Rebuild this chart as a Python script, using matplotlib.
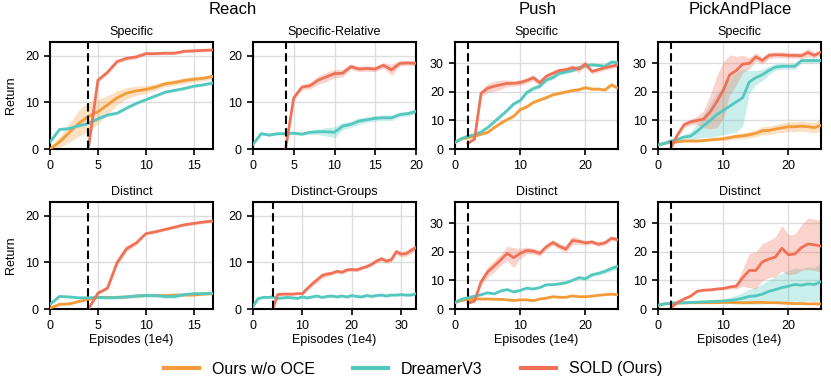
import numpy as np
import matplotlib.pyplot as plt
from matplotlib.lines import Line2D

plt.rcParams['font.family'] = ['Liberation Sans', 'DejaVu Sans']

C_NOOCE = '#F39B38'
C_DREAM = '#52C8BE'
C_SOLD = '#EF7157'

# ---- Reach / Specific (x 0..17, SOLD starts at 4)
rs_nooce = [0, 1.5, 3.5, 5.5, 7, 8, 9.5, 11, 12, 12.5, 12.8, 13.3, 14, 14.3, 14.7, 15, 15.2, 15.6]
rs_nooce_sd = [0.5, 1.2, 2, 2.8, 3.2, 2.6, 2, 1.5, 1.2, 1, 0.8, 0.7, 0.6, 0.6, 0.6, 0.6, 0.5, 0.5]
rs_dream = [1.5, 4.2, 4.4, 5, 5.5, 6.5, 7.3, 7.7, 8.8, 9.8, 10.6, 11.4, 12.2, 12.6, 13, 13.5, 13.8, 14.2]
rs_dream_sd = [0.2, 0.3, 0.3, 0.3, 0.3, 0.3, 0.3, 0.3, 0.3, 0.3, 0.3, 0.3, 0.3, 0.3, 0.3, 0.3, 0.3, 0.3]
rs_sold = [0, 14.8, 16.5, 18.8, 19.5, 19.8, 20.5, 20.5, 20.6, 20.6, 21, 21.1, 21.2, 21.3]
rs_sold_sd = [0, 0.4, 0.4, 0.4, 0.4, 0.4, 0.3, 0.3, 0.3, 0.3, 0.3, 0.3, 0.3, 0.3]

# ---- Reach / Specific-Relative (x 0..20, SOLD starts at 4)
rr_dream = [1, 3.3, 3, 3.3, 3.3, 3.4, 3.2, 3.6, 3.7, 3.7, 3.6, 4.9, 5.3, 6, 6.3, 6.6, 6.7, 6.7, 7.4, 7.6, 8.1]
rr_dream_sd = [0.2, 0.3, 0.3, 0.3, 0.3, 0.3, 0.3, 0.4, 0.6, 0.9, 1.2, 0.8, 0.7, 0.7, 0.6, 0.6, 0.6, 0.6, 0.5, 0.5, 0.5]
rr_sold = [0, 11, 13.3, 13.6, 14.8, 15.5, 16.2, 16.3, 17.7, 17.2, 17.3, 17.2, 18, 17, 18.4, 18.5, 18.4]
rr_sold_sd = [0, 0.5, 0.6, 0.7, 0.9, 1, 0.9, 0.8, 0.6, 0.6, 0.6, 0.6, 0.6, 1.2, 0.6, 0.5, 0.5]

# ---- Reach / Distinct (x 0..17, SOLD starts at 4)
rd_nooce = [0.2, 1, 1.1, 1.6, 2.1, 2.5, 2.5, 2.5, 2.6, 2.8, 2.9, 2.9, 2.9, 3, 3, 3, 3.2, 3.3]
rd_nooce_sd = [0.1, 0.2, 0.2, 0.2, 0.2, 0.2, 0.2, 0.2, 0.2, 0.2, 0.2, 0.2, 0.2, 0.2, 0.2, 0.2, 0.2, 0.2]
rd_dream = [1, 2.7, 2.6, 2.4, 2.4, 2.5, 2.4, 2.5, 2.6, 2.8, 2.9, 2.9, 2.7, 2.7, 3.1, 3.3, 3.3, 3.4]
rd_dream_sd = [0.2, 0.2, 0.2, 0.2, 0.2, 0.2, 0.3, 0.3, 0.4, 0.4, 0.4, 0.4, 0.4, 0.4, 0.3, 0.3, 0.3, 0.3]
rd_sold = [0, 3.4, 4.5, 10, 13, 14.2, 16.2, 16.6, 17.1, 17.6, 18.1, 18.4, 18.7, 18.9]
rd_sold_sd = [0, 0.3, 0.3, 0.7, 0.6, 0.4, 0.3, 0.3, 0.3, 0.3, 0.3, 0.3, 0.3, 0.3]

# ---- Reach / Distinct-Groups (x 0..33, SOLD starts at 4)
rg_dream = [0.5, 2.2, 2.5, 2.5, 2.6, 2.3, 2.4, 2.5, 2.4, 2.3, 2.6, 2.4, 2.6, 2.8, 2.5, 2.7, 2.8, 2.6,
            2.8, 2.6, 2.9, 2.7, 2.6, 2.9, 2.7, 2.9, 3.0, 2.8, 3.0, 3.0, 3.1, 3.0, 3.0, 3.3]
rg_dream_sd = [0.2, 0.3, 0.3, 0.3, 0.3, 0.3, 0.3, 0.3, 0.3, 0.3, 0.3, 0.3, 0.3, 0.3, 0.3, 0.3, 0.3, 0.3,
               0.3, 0.3, 0.3, 0.3, 0.3, 0.3, 0.3, 0.3, 0.3, 0.3, 0.3, 0.3, 0.3, 0.3, 0.3, 0.3]
rg_sold = [0, 3.1, 3.2, 3.2, 3.2, 3.3, 3.3, 4.4, 5.4, 6.3, 7.2, 7.5, 7.7, 8.1, 7.9, 8.4, 8.5, 8.4,
           8.8, 9.1, 9.6, 10.3, 10.8, 10.3, 10.6, 12.3, 11.8, 11.9, 12.6, 13.2]
rg_sold_sd = [0, 0.2, 0.2, 0.2, 0.2, 0.2, 0.3, 0.4, 0.5, 0.6, 0.6, 0.5, 0.4, 0.4, 0.4, 0.4, 0.4, 0.4,
              0.4, 0.4, 0.4, 0.5, 0.5, 0.5, 0.5, 0.6, 0.6, 0.6, 0.7, 0.7]

# ---- Push / Specific (x 0..25, SOLD starts at 2)
ps_nooce = [2.3, 3.5, 4, 4.5, 5.2, 5.8, 7.5, 9, 10.3, 11.5, 13.8, 14.8, 16.3, 17.2, 18, 19, 19.5, 20,
            20.5, 20.8, 21.5, 21, 21, 20.7, 22.5, 21.3]
ps_nooce_sd = [0.2, 0.3, 0.3, 0.3, 0.4, 0.4, 0.4, 0.5, 0.5, 0.6, 0.6, 0.6, 0.5, 0.5, 0.5, 0.5, 0.5, 0.5,
               0.5, 0.5, 0.5, 0.5, 0.5, 0.5, 0.6, 0.6]
ps_dream = [2.3, 3.7, 4.5, 5, 6, 7.5, 9.5, 11.5, 13.5, 15.8, 17, 19.8, 21.2, 22, 24.2, 25, 26.5, 27,
            27.5, 28.5, 29.2, 29.5, 29.3, 29, 30.5, 30.3]
ps_dream_sd = [0.2, 0.3, 0.3, 0.3, 0.4, 0.4, 0.5, 0.5, 0.5, 0.6, 0.6, 0.8, 0.8, 0.8, 0.7, 0.6, 0.6, 0.6,
               0.6, 0.6, 0.6, 0.6, 0.6, 0.6, 0.6, 0.6]
ps_sold = [2, 3.5, 19.5, 21.3, 22, 22.5, 23, 23, 23.3, 24, 25, 23.2, 25.5, 26.5, 27.5, 27.8, 28.5, 28,
           29.8, 27.2, 27.8, 28.5, 29, 29.5]
ps_sold_sd = [0.2, 0.4, 1.2, 1.5, 1.8, 1.6, 1.2, 1, 1, 1, 1, 1, 1, 0.9, 0.8, 0.8, 1, 1.2,
              0.9, 0.8, 0.8, 0.8, 0.8, 0.8]

# ---- PickAndPlace / Specific (x 0..25, SOLD starts at 2)
pp_nooce = [1.4, 2, 2.3, 2.5, 2.8, 2.8, 2.8, 3, 3.2, 3.4, 3.6, 4, 4.4, 4.6, 5, 5.5, 6.4, 6.5,
            7, 7.4, 7.8, 7.8, 8, 7.8, 7.5, 8.3]
pp_nooce_sd = [0.2, 0.3, 0.3, 0.3, 0.4, 0.4, 0.4, 0.5, 0.5, 0.6, 0.7, 0.8, 0.9, 1, 1.1, 1.2, 1.4, 1.5,
               1.5, 1.6, 1.7, 1.7, 1.8, 1.8, 1.8, 2.2]
pp_dream = [1.4, 2, 2.8, 3.4, 4.2, 4.5, 6.2, 8.2, 10, 12, 13.5, 15, 16.5, 18, 23.5, 25, 26, 27.5,
            28.7, 29, 29, 29, 31, 31, 31, 31]
pp_dream_sd = [0.2, 0.3, 0.4, 0.6, 1, 1.5, 2.5, 4, 6, 7.5, 8.5, 9.5, 10.5, 10, 4, 2.5, 2, 1.5,
               1.2, 1, 1, 1, 0.8, 0.8, 0.8, 0.8]
pp_sold = [0.5, 5, 8.5, 9.5, 10, 10.5, 13, 16.5, 20.5, 26, 27.5, 29.8, 30, 32.3, 31, 32.8, 33, 33,
           32.8, 32.8, 32.7, 33.8, 32.8, 34]
pp_sold_sd = [0.2, 0.8, 1, 1, 1.5, 3, 6, 9, 10, 7, 5, 3, 2, 1.5, 1.2, 1.2, 1, 1,
              1, 1, 1, 1.5, 1, 1]

# ---- Push / Distinct (x 0..25, SOLD starts at 2)
pd_nooce = [2.3, 3, 3.3, 3.5, 3.5, 3.5, 3.4, 3.4, 3.2, 3, 3.2, 3.2, 2.9, 3.5, 3.8, 4.3, 4.1, 4.1,
            4.6, 4.3, 4.3, 4.5, 4.8, 5, 5.2, 5]
pd_nooce_sd = [0.2, 0.2, 0.2, 0.2, 0.2, 0.2, 0.2, 0.2, 0.2, 0.2, 0.2, 0.2, 0.2, 0.2, 0.2, 0.2, 0.2, 0.2,
               0.2, 0.2, 0.2, 0.2, 0.2, 0.2, 0.3, 0.3]
pd_dream = [2.3, 3.4, 4, 4.5, 5, 5.7, 5.3, 6.3, 6.8, 6, 6.5, 7.3, 7, 7.5, 8.5, 8.5, 8.8, 9.2,
            10, 11, 10.6, 12, 12.5, 13.2, 14.2, 15]
pd_dream_sd = [0.2, 0.2, 0.3, 0.3, 0.3, 0.3, 0.3, 0.3, 0.3, 0.3, 0.3, 0.3, 0.3, 0.3, 0.3, 0.3, 0.3, 0.4,
               0.4, 0.5, 0.5, 0.6, 0.7, 0.8, 0.9, 1]
pd_sold = [2, 2.8, 9.5, 13, 15, 17.2, 19.5, 18, 19.5, 20.5, 20.3, 19.5, 21.8, 23.3, 22, 21, 24, 23.7,
           23.2, 23.5, 22.7, 23.2, 24.8, 24.3]
pd_sold_sd = [0.2, 0.4, 1, 1.8, 2, 2, 2.5, 3.5, 1.8, 1.2, 1, 1, 1, 1, 1, 1.2, 1.5, 1,
              0.8, 0.8, 0.8, 0.8, 0.8, 0.8]

# ---- PickAndPlace / Distinct (x 0..25, SOLD starts at 2)
pk_nooce = [1.3, 1.8, 2, 2.1, 2.1, 2.2, 2.2, 2.2, 2.2, 2.2, 2.3, 2.3, 2.2, 2.2, 2.2, 2.3, 2.3, 2.2,
            2.2, 2.1, 2.0, 1.9, 1.9, 1.8, 1.8, 1.8]
pk_nooce_sd = [0.1, 0.2, 0.2, 0.2, 0.2, 0.2, 0.2, 0.2, 0.2, 0.2, 0.2, 0.2, 0.2, 0.2, 0.2, 0.2, 0.2, 0.2,
               0.2, 0.2, 0.2, 0.2, 0.2, 0.2, 0.2, 0.2]
pk_dream = [1.3, 1.8, 2, 2.1, 2.2, 2.3, 2.4, 2.5, 2.6, 2.7, 2.8, 3, 3.3, 3.8, 4.4, 4.6, 5.2, 6.2,
            6.8, 7.5, 8, 8.6, 8.3, 8.8, 8.6, 9.6]
pk_dream_sd = [0.1, 0.2, 0.2, 0.2, 0.2, 0.2, 0.3, 0.3, 0.4, 0.5, 0.7, 1, 1.5, 2, 2.6, 3, 3.5, 4,
               4.5, 5, 5.5, 5.8, 5.8, 6, 6, 6.5]
pk_sold = [0.5, 2.3, 3.5, 4.5, 6.2, 6.6, 6.7, 7, 7.2, 7.7, 8, 11, 13.5, 13.5, 16.5, 17.5, 18.2, 21.3,
           19, 19.3, 21.5, 22.8, 22.5, 22]
pk_sold_sd = [0.2, 0.3, 0.3, 0.3, 0.3, 0.3, 0.3, 0.4, 0.5, 0.6, 1, 3, 6, 6.5, 6.5, 6.5, 7, 8,
              7, 7, 8, 9, 9, 9]

# px layout of the reference (figure 831 x 378)
W, H = 831, 378
col_left = [50, 253, 455, 658]
col_w = 163
row_top = [42, 202]
row_h = 107

panels = [
    # row, col, title, xmax, ymax, xticks, start, nooce, dream, sold
    (0, 0, 'Specific', 17, 23, [0, 5, 10, 15], 4, (rs_nooce, rs_nooce_sd), (rs_dream, rs_dream_sd), (rs_sold, rs_sold_sd)),
    (0, 1, 'Specific-Relative', 20, 23, [0, 5, 10, 15, 20], 4, None, (rr_dream, rr_dream_sd), (rr_sold, rr_sold_sd)),
    (0, 2, 'Specific', 25, 37.5, [0, 10, 20], 2, (ps_nooce, ps_nooce_sd), (ps_dream, ps_dream_sd), (ps_sold, ps_sold_sd)),
    (0, 3, 'Specific', 25, 37.5, [0, 10, 20], 2, (pp_nooce, pp_nooce_sd), (pp_dream, pp_dream_sd), (pp_sold, pp_sold_sd)),
    (1, 0, 'Distinct', 17, 23, [0, 5, 10, 15], 4, (rd_nooce, rd_nooce_sd), (rd_dream, rd_dream_sd), (rd_sold, rd_sold_sd)),
    (1, 1, 'Distinct-Groups', 33, 23, [0, 10, 20, 30], 4, None, (rg_dream, rg_dream_sd), (rg_sold, rg_sold_sd)),
    (1, 2, 'Distinct', 25, 37.5, [0, 10, 20], 2, (pd_nooce, pd_nooce_sd), (pd_dream, pd_dream_sd), (pd_sold, pd_sold_sd)),
    (1, 3, 'Distinct', 25, 37.5, [0, 10, 20], 2, (pk_nooce, pk_nooce_sd), (pk_dream, pk_dream_sd), (pk_sold, pk_sold_sd)),
]

fig = plt.figure(figsize=(W / 100, H / 100), dpi=100)


def draw(ax, x, series, color):
    m, sd = np.asarray(series[0], float), np.asarray(series[1], float)
    ax.fill_between(x, m - sd, m + sd, color=color, alpha=0.3, lw=0, zorder=2)
    ax.plot(x, m, color=color, lw=2, zorder=3)


for row, col, title, xmax, ymax, xticks, start, nooce, dream, sold in panels:
    rect = [col_left[col] / W, 1 - (row_top[row] + row_h) / H, col_w / W, row_h / H]
    ax = fig.add_axes(rect)
    if nooce is not None:
        draw(ax, np.arange(len(nooce[0])), nooce, C_NOOCE)
    draw(ax, np.arange(len(dream[0])), dream, C_DREAM)
    draw(ax, start + np.arange(len(sold[0])), sold, C_SOLD)
    ax.axvline(start, color='black', lw=1.5, ls=(0, (4, 2)), zorder=4)

    ax.set_xlim(0, xmax)
    ax.set_ylim(0, ymax)
    ax.set_xticks(xticks)
    ax.set_yticks([0, 10, 20] if ymax < 30 else [0, 10, 20, 30])
    ax.grid(True, color='#dddddd', lw=1, zorder=0)
    ax.set_axisbelow(True)
    for s in ax.spines.values():
        s.set_linewidth(1.5)
        s.set_color('black')
    ax.tick_params(labelsize=9, width=1.2, length=4, direction='out', pad=4)
    ax.set_title(title, fontsize=9, pad=5)
    if col == 0:
        ax.set_ylabel('Return', fontsize=9, labelpad=6)
    if row == 1:
        ax.set_xlabel('Episodes (1e4)', fontsize=9, labelpad=1)

fig.text((50 + 416) / 2 / W, 1 - 9 / H, 'Reach', ha='center', va='center', fontsize=12)
fig.text((455 + 620) / 2 / W, 1 - 9 / H, 'Push', ha='center', va='center', fontsize=12)
fig.text((658 + 822) / 2 / W, 1 - 9 / H, 'PickAndPlace', ha='center', va='center', fontsize=12)

handles = [Line2D([], [], color=C_NOOCE, lw=3),
           Line2D([], [], color=C_DREAM, lw=3),
           Line2D([], [], color=C_SOLD, lw=3)]
fig.legend(handles, ['Ours w/o OCE', 'DreamerV3', 'SOLD (Ours)'], loc='center',
           bbox_to_anchor=(0.497, 1 - 369 / H), ncol=3, frameon=False, fontsize=11.5,
           handlelength=2.2, columnspacing=2.4, handletextpad=0.8, borderpad=0.1)

fig.savefig('out.png', dpi=100)
